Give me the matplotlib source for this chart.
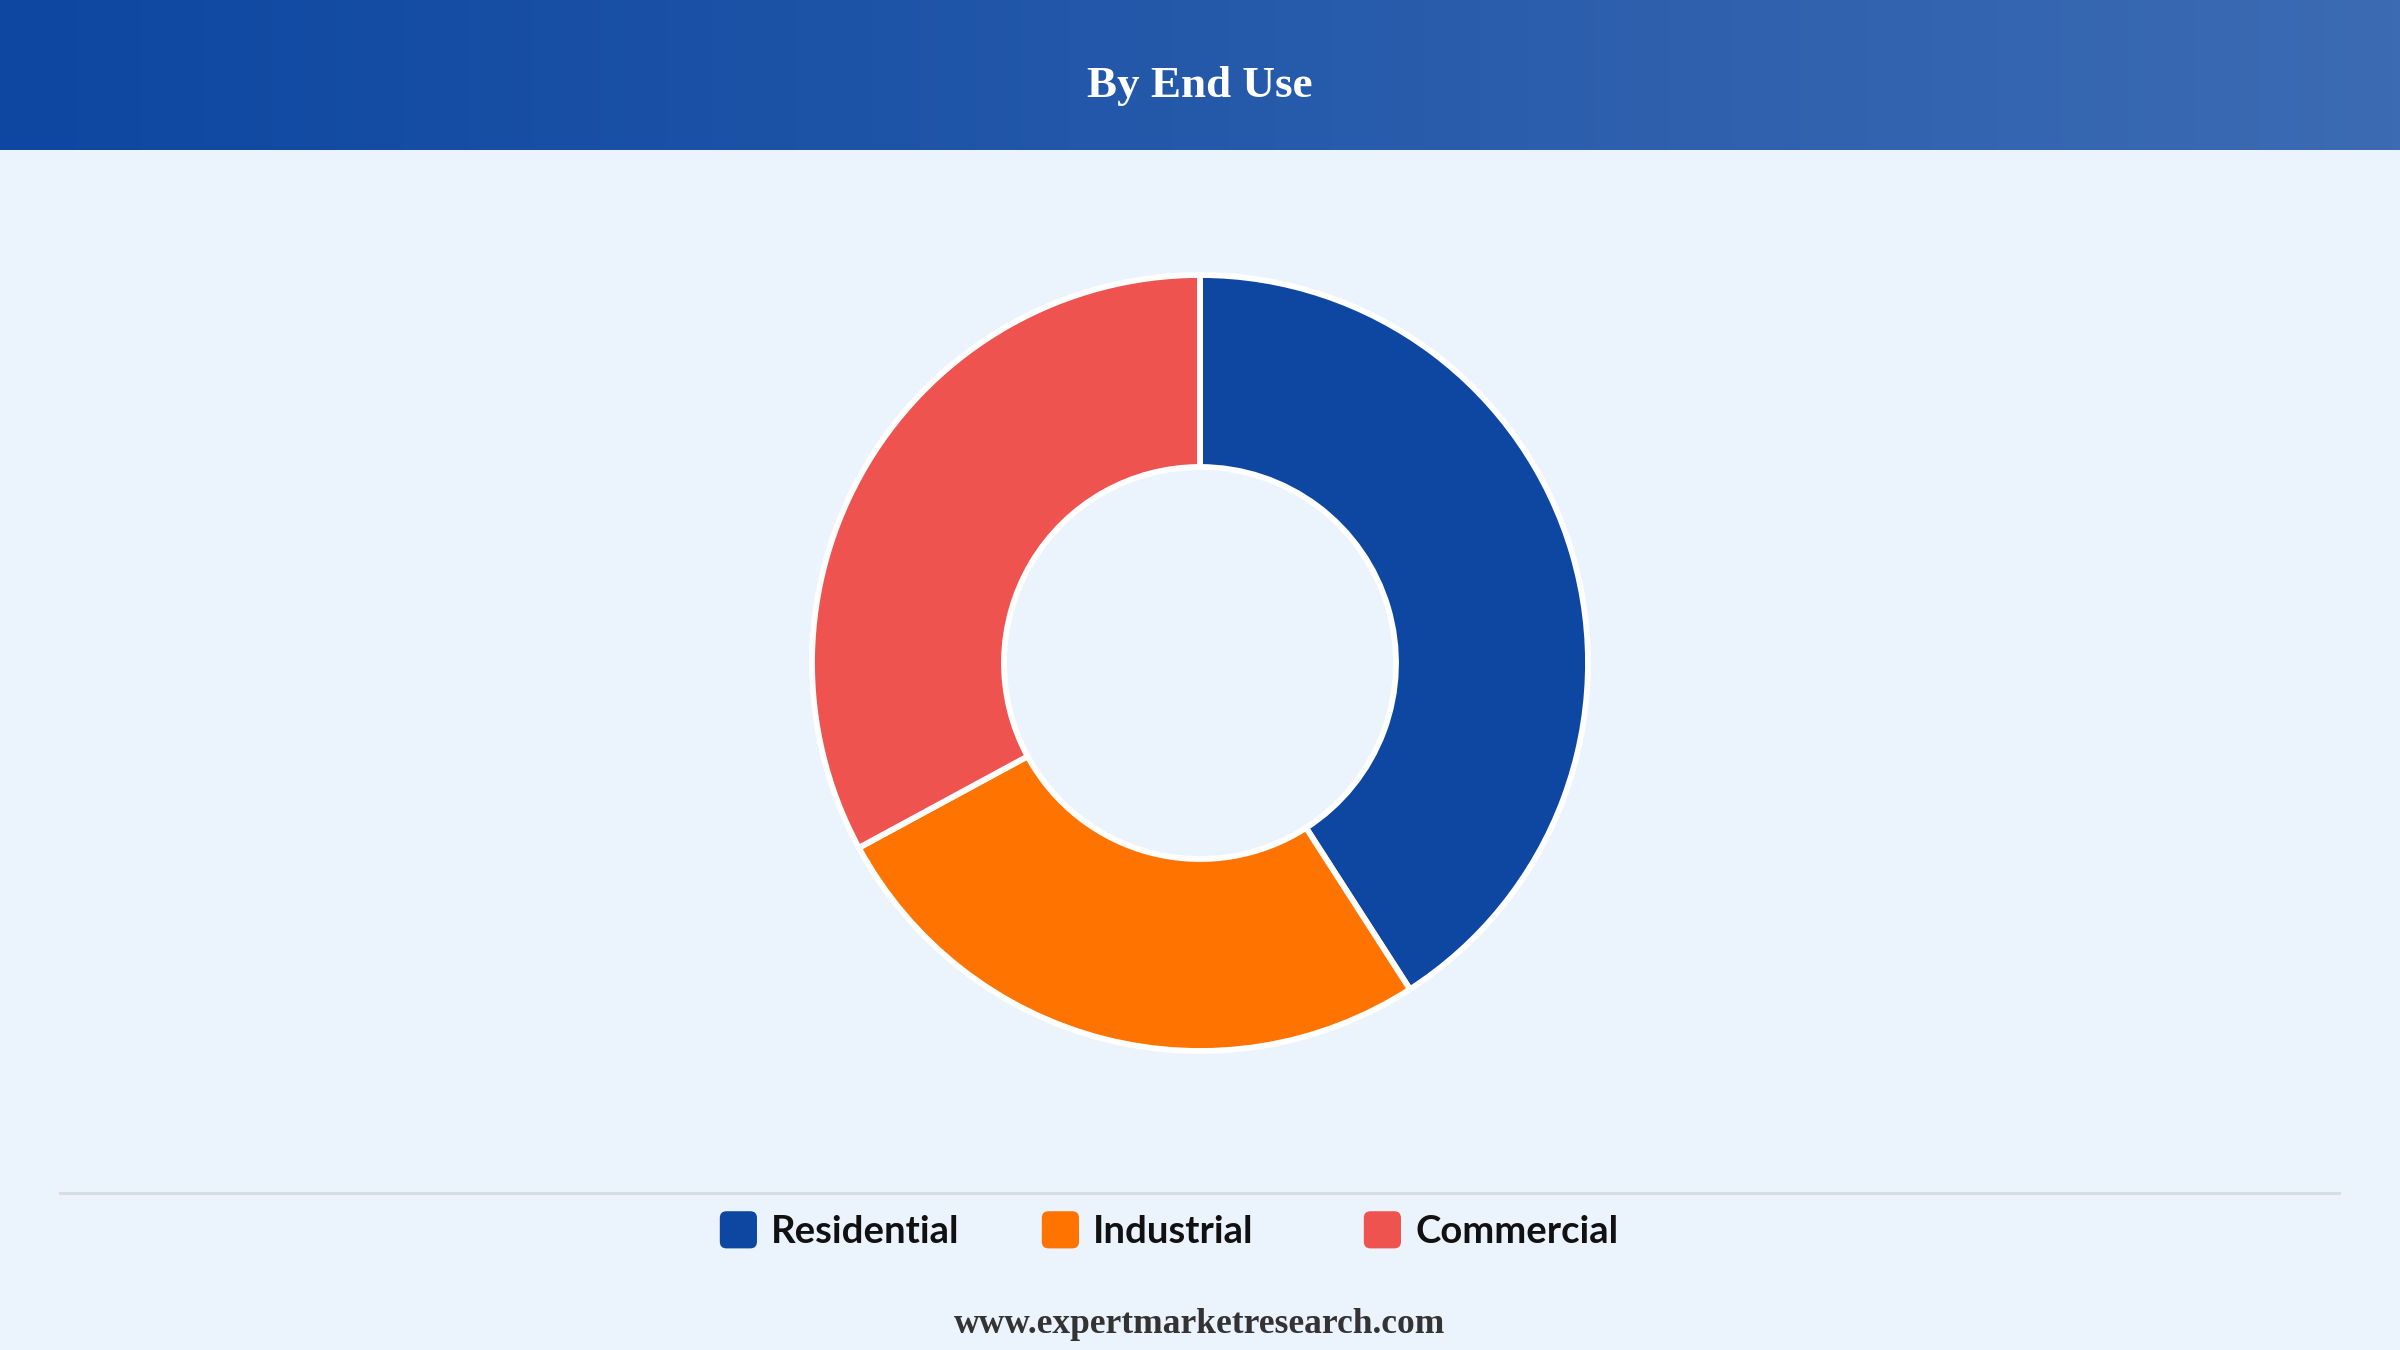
import numpy as np
import matplotlib
matplotlib.use("Agg")
import matplotlib.pyplot as plt
from matplotlib.patches import FancyBboxPatch, Patch
from matplotlib.legend_handler import HandlerPatch
from matplotlib.colors import LinearSegmentedColormap
from matplotlib.lines import Line2D

# ---- data ----
title = "By End Use"
categories = ["Residential", "Industrial", "Commercial"]
values = [40.9, 26.2, 32.9]
colors = ["#0D47A1", "#FF7300", "#EF5350"]
footer = "www.expertmarketresearch.com"

W, H = 2400, 1350
DPI = 100
fig = plt.figure(figsize=(W / DPI, H / DPI), dpi=DPI)
fig.patch.set_facecolor("#EBF3FC")

# ---- header band with gradient ----
hdr_h = 150 / H
hax = fig.add_axes([0, 1 - hdr_h, 1, hdr_h])
cmap = LinearSegmentedColormap.from_list("hdr", ["#0D47A1", "#3C6BB3"])
hax.imshow(np.linspace(0, 1, 512).reshape(1, -1), aspect="auto", cmap=cmap,
           extent=[0, 1, 0, 1])
hax.set_xlim(0, 1)
hax.set_ylim(0, 1)
hax.axis("off")
fig.text(0.5, (H - 97) / H, title, ha="center", va="baseline", color="white",
         fontsize=32.5, fontweight="bold", family="Liberation Serif")

# ---- donut ----
cx, cy, R = 1200, H - 663, 388
ax = fig.add_axes([(cx - R) / W, (cy - R) / H, 2 * R / W, 2 * R / H])
ax.set_facecolor("none")
wedges, _ = ax.pie(values, colors=colors, startangle=90, counterclock=False,
                   radius=1.0,
                   wedgeprops=dict(width=1 - 196 / 388, edgecolor="white",
                                   linewidth=4.2))
for w in wedges:
    w.set_clip_on(False)
ax.set_xlim(-1, 1)
ax.set_ylim(-1, 1)
ax.set_aspect("equal")
ax.axis("off")

# ---- separator line ----
sy = (H - 1193) / H
fig.add_artist(Line2D([60 / W, 2339 / W], [sy, sy], color="#D9DCE1",
                      linewidth=2.2, transform=fig.transFigure))


# ---- legend with rounded squares (fixed-width items) ----
class HandlerRound(HandlerPatch):
    def create_artists(self, legend, orig_handle, xdescent, ydescent, width,
                       height, fontsize, trans):
        s = min(width, height)
        p = FancyBboxPatch((-xdescent + (width - s) / 2, -ydescent + (height - s) / 2),
                           s, s, boxstyle="round,pad=0,rounding_size=%f" % (s * 0.18),
                           facecolor=orig_handle.get_facecolor(),
                           edgecolor="none", transform=trans)
        return [p]


item_x0 = 717   # left edge of first legend item (px)
item_step = 322  # fixed item width (px)
for i, (c, l) in enumerate(zip(colors, categories)):
    leg = fig.legend(handles=[Patch(facecolor=c, label=l)], loc="center left",
                     bbox_to_anchor=((item_x0 + i * item_step) / W, (H - 1230) / H),
                     frameon=False, borderpad=0, borderaxespad=0,
                     prop=dict(family="Lato", weight="bold", size=27.5),
                     handlelength=1.12, handleheight=1.12, handletextpad=0.3,
                     handler_map={Patch: HandlerRound()})
    for t in leg.get_texts():
        t.set_color("#111111")

# ---- footer ----
fig.text(0.5, (H - 1333) / H, footer, ha="center", va="baseline", color="#333333",
         fontsize=25.5, fontweight="bold", family="Liberation Serif")

fig.savefig("out.png", dpi=DPI, facecolor=fig.get_facecolor())
